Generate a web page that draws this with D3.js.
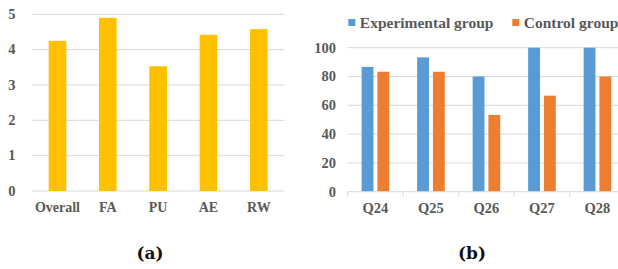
<!DOCTYPE html>
<html><head><meta charset="utf-8">
<script src="https://cdn.jsdelivr.net/npm/d3@7"></script>
<style>body{margin:0;background:#fff}svg{display:block}</style>
</head><body>
<svg id="c" width="618" height="269"></svg>
<script>
const catsA = ["Overall","FA","PU","AE","RW"];
const valsA = [4.25, 4.9, 3.53, 4.42, 4.58];
const ticksA = [0,1,2,3,4,5];

const catsB = ["Q24","Q25","Q26","Q27","Q28"];
const seriesB = ["Experimental group","Control group"];
const expVals = [86.7, 93.3, 80, 100, 100];
const ctrlVals = [83.3, 83.3, 53.3, 66.7, 80];
const ticksB = [0,20,40,60,80,100];
const captions = ["(a)","(b)"];

const svg = d3.select("#c");
const lblColor = "#595959", gridColor = "#d9d9d9";
const font = "'Liberation Serif','Times New Roman',serif";

// Chart (a)
{
  const x = d3.scaleBand().domain(catsA).range([32.3, 284]).paddingInner(0.65).paddingOuter(0.325);
  const y = d3.scaleLinear().domain([0,5]).range([191, 14.3]);
  const g = svg.append("g");
  g.selectAll("line.grid").data(ticksA).join("line")
    .attr("x1",32.3).attr("x2",284).attr("y1",d=>y(d)).attr("y2",d=>y(d))
    .attr("stroke",gridColor).attr("stroke-width",1);
  g.selectAll("rect").data(valsA).join("rect")
    .attr("x",(d,i)=>x(catsA[i])).attr("width",x.bandwidth())
    .attr("y",d=>y(d)).attr("height",d=>y(0)-y(d)).attr("fill","#FFC000");
  g.selectAll("text.yl").data(ticksA).join("text")
    .attr("x",15.5).attr("y",d=>y(d)+4.8).attr("text-anchor","end")
    .attr("font-family",font).attr("font-weight","bold").attr("font-size",14.5).attr("fill",lblColor)
    .text(d=>d);
  g.selectAll("text.xl").data(catsA).join("text")
    .attr("x",d=>x(d)+x.bandwidth()/2).attr("y",212).attr("text-anchor","middle")
    .attr("font-family",font).attr("font-weight","bold").attr("font-size",14).attr("fill",lblColor)
    .text(d=>d);
}

// Chart (b)
{
  const x0 = d3.scaleBand().domain(catsB).range([347.7, 625.2]);
  const x1 = d3.scaleBand().domain(seriesB).range([0, 27.6]).paddingInner(0.25);
  const off = (x0.bandwidth()-27.6)/2;
  const y = d3.scaleLinear().domain([0,100]).range([191.7, 47.7]);
  const colors = {"Experimental group":"#5B9BD5","Control group":"#ED7D31"};
  const g = svg.append("g");
  g.selectAll("line.grid").data(ticksB.slice(1)).join("line")
    .attr("x1",347.7).attr("x2",625).attr("y1",d=>y(d)).attr("y2",d=>y(d))
    .attr("stroke",gridColor).attr("stroke-width",1);
  const rows = catsB.map((c,i)=>({c, vals:[{s:seriesB[0],v:expVals[i]},{s:seriesB[1],v:ctrlVals[i]}]}));
  g.selectAll("g.grp").data(rows).join("g")
    .attr("transform",d=>`translate(${x0(d.c)+off},0)`)
    .selectAll("rect").data(d=>d.vals).join("rect")
    .attr("x",d=>x1(d.s)).attr("width",x1.bandwidth())
    .attr("y",d=>y(d.v)).attr("height",d=>y(0)-y(d.v)).attr("fill",d=>colors[d.s]);
  g.append("line").attr("x1",347.7).attr("x2",625).attr("y1",y(0)).attr("y2",y(0))
    .attr("stroke",gridColor).attr("stroke-width",1);
  g.selectAll("line.tk").data(catsB.concat(["end"])).join("line")
    .attr("x1",(d,i)=>347.7+i*x0.bandwidth()).attr("x2",(d,i)=>347.7+i*x0.bandwidth())
    .attr("y1",y(0)).attr("y2",y(0)+5).attr("stroke",gridColor);
  g.selectAll("text.yl").data(ticksB).join("text")
    .attr("x",336).attr("y",d=>y(d)+4.8).attr("text-anchor","end")
    .attr("font-family",font).attr("font-weight","bold").attr("font-size",14.5).attr("fill",lblColor)
    .text(d=>d);
  g.selectAll("text.xl").data(catsB).join("text")
    .attr("x",d=>x0(d)+x0.bandwidth()/2).attr("y",213).attr("text-anchor","middle")
    .attr("font-family",font).attr("font-weight","bold").attr("font-size",14.5).attr("fill",lblColor)
    .text(d=>d);
  const legX = [348.3, 512.3];
  seriesB.forEach((s,i)=>{
    g.append("rect").attr("x",legX[i]).attr("y",19).attr("width",7).attr("height",7).attr("fill",colors[s]);
    g.append("text").attr("x",legX[i]+11.5).attr("y",27.5)
      .attr("font-family",font).attr("font-weight","bold").attr("font-size",15.5).attr("fill",lblColor)
      .text(s);
  });
}

svg.selectAll("text.cap").data(captions).join("text")
  .attr("x",(d,i)=>[150,472][i]).attr("y",259).attr("text-anchor","middle")
  .attr("font-family","'DejaVu Serif',serif").attr("font-weight","bold").attr("font-size",17).attr("fill","#111")
  .text(d=>d);
</script>
</body></html>
